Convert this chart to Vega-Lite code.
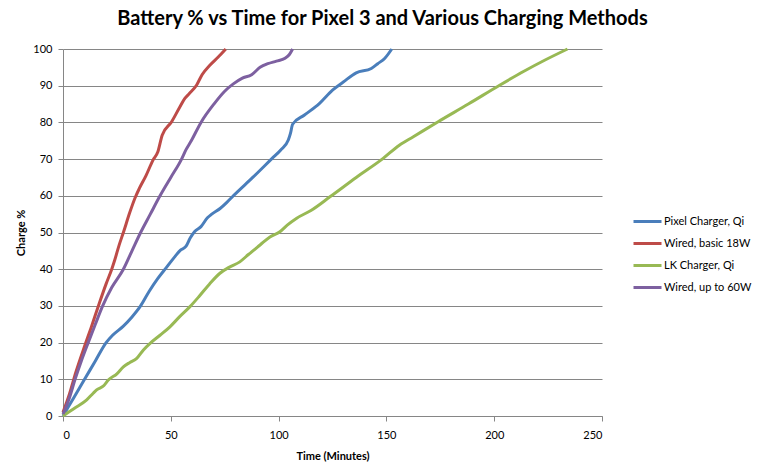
{
  "$schema": "https://vega.github.io/schema/vega-lite/v6.json",
  "width": 539,
  "height": 367,
  "autosize": {"type": "none"},
  "padding": {"left": 63, "top": 49, "right": 165, "bottom": 57},
  "title": {
    "text": "Battery % vs Time for Pixel 3 and Various Charging Methods",
    "fontSize": 20,
    "font": "Lato",
    "fontWeight": "bold",
    "color": "black",
    "anchor": "middle",
    "dx": 50,
    "offset": 14
  },
  "data": {
    "values": [
      {"method": "Pixel Charger, Qi", "time": 0, "charge": 0},
      {"method": "Pixel Charger, Qi", "time": 5, "charge": 5},
      {"method": "Pixel Charger, Qi", "time": 10, "charge": 10},
      {"method": "Pixel Charger, Qi", "time": 15, "charge": 15},
      {"method": "Pixel Charger, Qi", "time": 20, "charge": 20},
      {"method": "Pixel Charger, Qi", "time": 23, "charge": 22},
      {"method": "Pixel Charger, Qi", "time": 28, "charge": 24.5},
      {"method": "Pixel Charger, Qi", "time": 32, "charge": 27},
      {"method": "Pixel Charger, Qi", "time": 36, "charge": 30},
      {"method": "Pixel Charger, Qi", "time": 40, "charge": 34},
      {"method": "Pixel Charger, Qi", "time": 44, "charge": 37.5},
      {"method": "Pixel Charger, Qi", "time": 48, "charge": 40.5},
      {"method": "Pixel Charger, Qi", "time": 52, "charge": 43.5},
      {"method": "Pixel Charger, Qi", "time": 54.5, "charge": 45.2},
      {"method": "Pixel Charger, Qi", "time": 57, "charge": 46.2},
      {"method": "Pixel Charger, Qi", "time": 59, "charge": 48.5},
      {"method": "Pixel Charger, Qi", "time": 61, "charge": 50.2},
      {"method": "Pixel Charger, Qi", "time": 64, "charge": 51.6},
      {"method": "Pixel Charger, Qi", "time": 67, "charge": 54},
      {"method": "Pixel Charger, Qi", "time": 69, "charge": 55},
      {"method": "Pixel Charger, Qi", "time": 73, "charge": 56.6},
      {"method": "Pixel Charger, Qi", "time": 76, "charge": 58.2},
      {"method": "Pixel Charger, Qi", "time": 79, "charge": 60},
      {"method": "Pixel Charger, Qi", "time": 88, "charge": 65},
      {"method": "Pixel Charger, Qi", "time": 97, "charge": 70.2},
      {"method": "Pixel Charger, Qi", "time": 101, "charge": 72.5},
      {"method": "Pixel Charger, Qi", "time": 104.5, "charge": 75.2},
      {"method": "Pixel Charger, Qi", "time": 105.5, "charge": 77},
      {"method": "Pixel Charger, Qi", "time": 106.5, "charge": 79.5},
      {"method": "Pixel Charger, Qi", "time": 112, "charge": 82},
      {"method": "Pixel Charger, Qi", "time": 119, "charge": 85.2},
      {"method": "Pixel Charger, Qi", "time": 125, "charge": 88.8},
      {"method": "Pixel Charger, Qi", "time": 130, "charge": 91},
      {"method": "Pixel Charger, Qi", "time": 136, "charge": 93.5},
      {"method": "Pixel Charger, Qi", "time": 143, "charge": 94.7},
      {"method": "Pixel Charger, Qi", "time": 146, "charge": 96},
      {"method": "Pixel Charger, Qi", "time": 149.3, "charge": 97.5},
      {"method": "Pixel Charger, Qi", "time": 152.5, "charge": 100},

      {"method": "Wired, basic 18W", "time": 0, "charge": 1},
      {"method": "Wired, basic 18W", "time": 3, "charge": 6},
      {"method": "Wired, basic 18W", "time": 6, "charge": 12},
      {"method": "Wired, basic 18W", "time": 10, "charge": 19},
      {"method": "Wired, basic 18W", "time": 13, "charge": 24},
      {"method": "Wired, basic 18W", "time": 17, "charge": 31},
      {"method": "Wired, basic 18W", "time": 20, "charge": 36},
      {"method": "Wired, basic 18W", "time": 22.6, "charge": 40},
      {"method": "Wired, basic 18W", "time": 24, "charge": 42.5},
      {"method": "Wired, basic 18W", "time": 26, "charge": 46.5},
      {"method": "Wired, basic 18W", "time": 28, "charge": 50},
      {"method": "Wired, basic 18W", "time": 31, "charge": 55.5},
      {"method": "Wired, basic 18W", "time": 33.4, "charge": 59.4},
      {"method": "Wired, basic 18W", "time": 35.4, "charge": 62},
      {"method": "Wired, basic 18W", "time": 38.5, "charge": 65.5},
      {"method": "Wired, basic 18W", "time": 41.8, "charge": 69.8},
      {"method": "Wired, basic 18W", "time": 44, "charge": 72},
      {"method": "Wired, basic 18W", "time": 46, "charge": 76.5},
      {"method": "Wired, basic 18W", "time": 50.4, "charge": 80.2},
      {"method": "Wired, basic 18W", "time": 54, "charge": 84},
      {"method": "Wired, basic 18W", "time": 56.6, "charge": 86.6},
      {"method": "Wired, basic 18W", "time": 58.5, "charge": 87.8},
      {"method": "Wired, basic 18W", "time": 62, "charge": 90.2},
      {"method": "Wired, basic 18W", "time": 64.5, "charge": 93},
      {"method": "Wired, basic 18W", "time": 68, "charge": 95.5},
      {"method": "Wired, basic 18W", "time": 72, "charge": 97.8},
      {"method": "Wired, basic 18W", "time": 75.5, "charge": 100},

      {"method": "LK Charger, Qi", "time": 0, "charge": 0},
      {"method": "LK Charger, Qi", "time": 5, "charge": 2},
      {"method": "LK Charger, Qi", "time": 11, "charge": 4.4},
      {"method": "LK Charger, Qi", "time": 14, "charge": 6.2},
      {"method": "LK Charger, Qi", "time": 15.6, "charge": 7.1},
      {"method": "LK Charger, Qi", "time": 19, "charge": 8.3},
      {"method": "LK Charger, Qi", "time": 21, "charge": 9.8},
      {"method": "LK Charger, Qi", "time": 25, "charge": 11.5},
      {"method": "LK Charger, Qi", "time": 28, "charge": 13.4},
      {"method": "LK Charger, Qi", "time": 31, "charge": 14.6},
      {"method": "LK Charger, Qi", "time": 34.2, "charge": 15.7},
      {"method": "LK Charger, Qi", "time": 37.3, "charge": 18},
      {"method": "LK Charger, Qi", "time": 40.4, "charge": 19.8},
      {"method": "LK Charger, Qi", "time": 45, "charge": 22},
      {"method": "LK Charger, Qi", "time": 49.6, "charge": 24.3},
      {"method": "LK Charger, Qi", "time": 54, "charge": 27},
      {"method": "LK Charger, Qi", "time": 58.9, "charge": 29.8},
      {"method": "LK Charger, Qi", "time": 63, "charge": 32.5},
      {"method": "LK Charger, Qi", "time": 68, "charge": 36},
      {"method": "LK Charger, Qi", "time": 72.8, "charge": 38.9},
      {"method": "LK Charger, Qi", "time": 77, "charge": 40.5},
      {"method": "LK Charger, Qi", "time": 82, "charge": 42},
      {"method": "LK Charger, Qi", "time": 86, "charge": 44},
      {"method": "LK Charger, Qi", "time": 91.4, "charge": 46.6},
      {"method": "LK Charger, Qi", "time": 96, "charge": 48.8},
      {"method": "LK Charger, Qi", "time": 100.6, "charge": 50.2},
      {"method": "LK Charger, Qi", "time": 104, "charge": 52},
      {"method": "LK Charger, Qi", "time": 108.4, "charge": 53.9},
      {"method": "LK Charger, Qi", "time": 115, "charge": 56},
      {"method": "LK Charger, Qi", "time": 124, "charge": 59.8},
      {"method": "LK Charger, Qi", "time": 136, "charge": 65},
      {"method": "LK Charger, Qi", "time": 148.5, "charge": 70.2},
      {"method": "LK Charger, Qi", "time": 156, "charge": 73.8},
      {"method": "LK Charger, Qi", "time": 162.5, "charge": 76.1},
      {"method": "LK Charger, Qi", "time": 174, "charge": 80.2},
      {"method": "LK Charger, Qi", "time": 188, "charge": 85},
      {"method": "LK Charger, Qi", "time": 202.7, "charge": 90.2},
      {"method": "LK Charger, Qi", "time": 214, "charge": 94},
      {"method": "LK Charger, Qi", "time": 223.6, "charge": 97},
      {"method": "LK Charger, Qi", "time": 234, "charge": 100},

      {"method": "Wired, up to 60W", "time": 0, "charge": 0.5},
      {"method": "Wired, up to 60W", "time": 3, "charge": 5},
      {"method": "Wired, up to 60W", "time": 5.6, "charge": 10},
      {"method": "Wired, up to 60W", "time": 8.5, "charge": 15},
      {"method": "Wired, up to 60W", "time": 11.7, "charge": 20},
      {"method": "Wired, up to 60W", "time": 15, "charge": 25},
      {"method": "Wired, up to 60W", "time": 18.4, "charge": 30},
      {"method": "Wired, up to 60W", "time": 22.6, "charge": 35},
      {"method": "Wired, up to 60W", "time": 28, "charge": 40},
      {"method": "Wired, up to 60W", "time": 32, "charge": 45},
      {"method": "Wired, up to 60W", "time": 36, "charge": 50},
      {"method": "Wired, up to 60W", "time": 40.5, "charge": 55},
      {"method": "Wired, up to 60W", "time": 45, "charge": 60},
      {"method": "Wired, up to 60W", "time": 50, "charge": 65},
      {"method": "Wired, up to 60W", "time": 55, "charge": 70},
      {"method": "Wired, up to 60W", "time": 57, "charge": 72.5},
      {"method": "Wired, up to 60W", "time": 59.5, "charge": 75},
      {"method": "Wired, up to 60W", "time": 64, "charge": 80},
      {"method": "Wired, up to 60W", "time": 70, "charge": 85},
      {"method": "Wired, up to 60W", "time": 75, "charge": 88.5},
      {"method": "Wired, up to 60W", "time": 79, "charge": 90.5},
      {"method": "Wired, up to 60W", "time": 83, "charge": 92},
      {"method": "Wired, up to 60W", "time": 87.5, "charge": 93},
      {"method": "Wired, up to 60W", "time": 91.4, "charge": 95},
      {"method": "Wired, up to 60W", "time": 95, "charge": 96},
      {"method": "Wired, up to 60W", "time": 99, "charge": 96.7},
      {"method": "Wired, up to 60W", "time": 103, "charge": 97.5},
      {"method": "Wired, up to 60W", "time": 105, "charge": 98.5},
      {"method": "Wired, up to 60W", "time": 106.5, "charge": 100}
    ]
  },
  "mark": {"type": "line", "strokeWidth": 3, "interpolate": "monotone"},
  "encoding": {
    "x": {
      "field": "time",
      "type": "quantitative",
      "scale": {"domain": [0, 250], "nice": false},
      "axis": {
        "title": "Time (Minutes)",
        "values": [0, 50, 100, 150, 200, 250],
        "grid": false,
        "tickSize": 5,
        "labelPadding": 8,
        "titlePadding": 10
      }
    },
    "y": {
      "field": "charge",
      "type": "quantitative",
      "scale": {"domain": [0, 100], "nice": false},
      "axis": {
        "title": "Charge %",
        "values": [0, 10, 20, 30, 40, 50, 60, 70, 80, 90, 100],
        "grid": true,
        "tickSize": 5,
        "labelPadding": 6,
        "titlePadding": 6
      }
    },
    "color": {
      "field": "method",
      "type": "nominal",
      "scale": {
        "domain": ["Pixel Charger, Qi", "Wired, basic 18W", "LK Charger, Qi", "Wired, up to 60W"],
        "range": ["#4a7ebb", "#be4b48", "#98b954", "#7d60a0"]
      },
      "legend": {
        "title": null,
        "orient": "none",
        "legendX": 569,
        "legendY": 157,
        "symbolType": "stroke",
        "symbolStrokeWidth": 3,
        "symbolSize": 784,
        "rowPadding": -1.3,
        "labelOffset": 1,
        "labelFontSize": 11,
        "labelFont": "Lato",
        "labelColor": "black"
      }
    }
  },
  "config": {
    "view": {"stroke": null},
    "font": "Lato",
    "axis": {
      "domainColor": "#868686",
      "tickColor": "#868686",
      "gridColor": "#868686",
      "gridOpacity": 1,
      "labelFont": "Lato",
      "labelFontSize": 11,
      "labelColor": "black",
      "titleFont": "Lato",
      "titleFontSize": 11,
      "titleFontWeight": "bold",
      "titleColor": "black"
    }
  }
}
